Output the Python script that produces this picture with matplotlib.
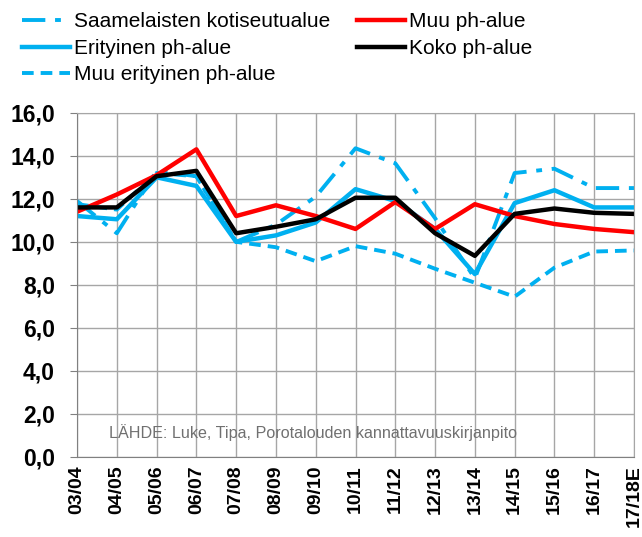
import matplotlib.pyplot as plt
from matplotlib.ticker import FuncFormatter

plt.rcParams['font.family'] = ['Liberation Sans', 'DejaVu Sans']

# kaudet
seasons = ["03/04", "04/05", "05/06", "06/07", "07/08", "08/09", "09/10", "10/11",
           "11/12", "12/13", "13/14", "14/15", "15/16", "16/17", "17/18E"]

# sarjat
saamelaisten = [11.9, 10.4, 13.3, 13.05, 10.0, 10.8, 12.1, 14.35, 13.65, 11.1, 8.3,
                13.2, 13.4, 12.5, 12.5]
erityinen = [11.2, 11.05, 13.0, 12.6, 10.0, 10.3, 10.9, 12.45, 11.9, 10.6, 8.5,
             11.8, 12.4, 11.6, 11.6]
muu_erityinen = [11.75, 11.5, 13.2, 13.05, 10.0, 9.75, 9.1, 9.8, 9.45, 8.75, 8.1,
                 7.45, 8.8, 9.55, 9.6]
muu = [11.4, 12.2, 13.1, 14.3, 11.2, 11.7, 11.2, 10.6, 11.85, 10.6, 11.75,
       11.2, 10.83, 10.6, 10.45]
koko = [11.6, 11.6, 13.05, 13.3, 10.4, 10.7, 11.05, 12.05, 12.05, 10.4, 9.35,
        11.3, 11.55, 11.35, 11.3]

blue = "#00B0F0"
red = "#FF0000"

fig = plt.figure(figsize=(6.42, 5.37), dpi=100)
ax = fig.add_axes([0.12, 0.149, 0.8675, 0.641])

x = list(range(len(seasons)))
lw = 3.2
l1, = ax.plot(x, saamelaisten, color=blue, lw=2.8, dashes=(6, 2.5, 1.5, 2.5),
              label="Saamelaisten kotiseutualue")
l3, = ax.plot(x, erityinen, color=blue, lw=lw, label="Erityinen ph-alue")
l5, = ax.plot(x, muu_erityinen, color=blue, lw=2.8, dashes=(3, 1.8),
              label="Muu erityinen ph-alue")
l2, = ax.plot(x, muu, color=red, lw=lw, label="Muu ph-alue")
l4, = ax.plot(x, koko, color="black", lw=lw, label="Koko ph-alue")

ax.set_xlim(0, len(seasons) - 1)
ax.set_ylim(0, 16)
ax.set_yticks([0, 2, 4, 6, 8, 10, 12, 14, 16])
ax.yaxis.set_major_formatter(FuncFormatter(lambda v, p: f"{v:.1f}".replace(".", ",")))
ax.set_xticks(x)
ax.set_xticklabels(seasons, rotation=90, fontsize=14, fontweight="bold")
for t in ax.get_yticklabels():
    t.set_fontsize(16.5)
    t.set_fontweight("bold")
ax.tick_params(axis="y", length=5, color="#808080", pad=11)
ax.tick_params(axis="x", length=0, pad=6)

ax.grid(True, color="#A6A6A6", lw=1)
ax.set_axisbelow(True)
for s in ax.spines.values():
    s.set_color("#A6A6A6")
ax.spines["left"].set_color("#808080")
ax.spines["bottom"].set_color("#808080")

ax.text(0.058, 0.055, "LÄHDE: Luke, Tipa, Porotalouden kannattavuuskirjanpito",
        transform=ax.transAxes, fontsize=11.6, color="#707070")

fig.legend(handles=[l1, l3, l5, l2, l4], ncol=2, loc="upper left",
           bbox_to_anchor=(0.005, 1.012), frameon=False, fontsize=15,
           handlelength=2.3, handletextpad=0.2, columnspacing=1.3,
           labelspacing=0.36)

fig.savefig("out.png", dpi=100)
